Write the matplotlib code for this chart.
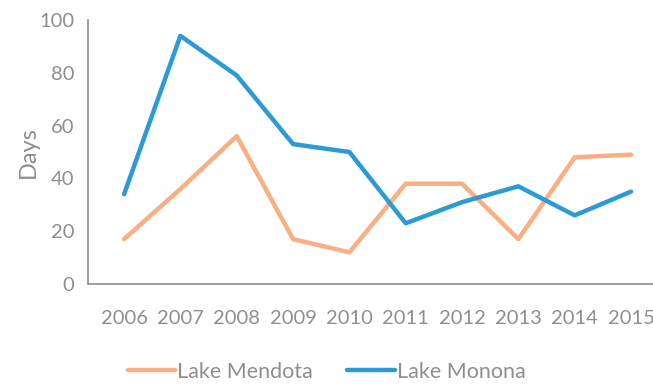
import matplotlib
matplotlib.use("Agg")
import matplotlib.pyplot as plt

years = ["2006", "2007", "2008", "2009", "2010", "2011", "2012", "2013", "2014", "2015"]
mendota = [17, 36, 56, 17, 12, 38, 38, 17, 48, 49]
monona = [34, 94, 79, 53, 50, 23, 31, 37, 26, 35]

gray = "#8e8e8e"
plt.rcParams["font.family"] = ["Lato", "DejaVu Sans"]

fig = plt.figure(figsize=(6.53, 3.85), dpi=100)
ax = fig.add_axes([88 / 653, 1 - 284 / 385, (653 - 88) / 653, (284 - 20) / 385])

x = list(range(len(years)))
ax.plot(x, mendota, color="#FBAE82", lw=3.2, solid_capstyle="round", label="Lake Mendota")
ax.plot(x, monona, color="#2C9AD5", lw=3.2, solid_capstyle="round", label="Lake Monona")

ax.set_ylim(0, 100)
ax.set_xlim(-0.64, 9.39)
ax.set_yticks([0, 20, 40, 60, 80, 100])
ax.set_xticks(x)
ax.set_xticklabels(years)
ax.tick_params(axis="both", length=0, colors=gray, labelsize=14.5)
ax.tick_params(axis="x", pad=19)
ax.tick_params(axis="y", pad=10)
for s in ["top", "right"]:
    ax.spines[s].set_visible(False)
for s in ["left", "bottom"]:
    ax.spines[s].set_color(gray)
    ax.spines[s].set_linewidth(1.2)
ax.set_ylabel("Days", color=gray, fontsize=17, labelpad=0)

fig.legend(loc="center", bbox_to_anchor=(0.5, 1 - 372 / 385), ncol=2, frameon=False,
           fontsize=15.5, labelcolor=gray, handlelength=2.2, handletextpad=0.1,
           columnspacing=1.6)

fig.savefig("out.png", dpi=100)
